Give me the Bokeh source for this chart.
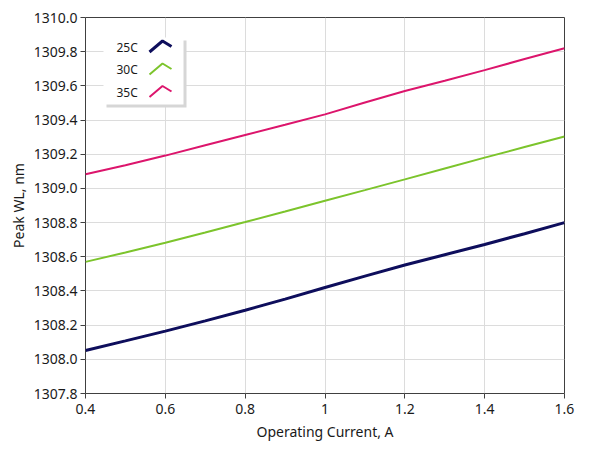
from bokeh.plotting import figure
from bokeh.models import Range1d, FixedTicker, CustomJSTickFormatter, Label, PolyAnnotation, BoxAnnotation
from bokeh.embed import file_html
from bokeh.resources import INLINE

# ---- data ----
current = [0.4, 0.5, 0.6, 0.7, 0.8, 0.9, 1.0, 1.1, 1.2, 1.3, 1.4, 1.5, 1.6]
wl_25c = [1308.052, 1308.108, 1308.165, 1308.225, 1308.287, 1308.352, 1308.420,
          1308.487, 1308.552, 1308.612, 1308.672, 1308.735, 1308.800]
wl_30c = [1308.570, 1308.625, 1308.682, 1308.742, 1308.803, 1308.865, 1308.928,
          1308.990, 1309.053, 1309.117, 1309.180, 1309.242, 1309.304]
wl_35c = [1309.083, 1309.135, 1309.192, 1309.252, 1309.312, 1309.372, 1309.433,
          1309.503, 1309.570, 1309.630, 1309.692, 1309.757, 1309.820]
series_names = ["25C", "30C", "35C"]
series_colors = ["#0e0e5c", "#7cc42c", "#dc156c"]
series_widths = [3, 2, 2]
x_ticks = [0.4, 0.6, 0.8, 1.0, 1.2, 1.4, 1.6]
y_ticks = [1307.8, 1308.0, 1308.2, 1308.4, 1308.6, 1308.8, 1309.0, 1309.2,
           1309.4, 1309.6, 1309.8, 1310.0]

FONT = "Noto Sans"
TXT = "#1a1a1a"

p = figure(width=580, height=448, output_backend="svg", toolbar_location=None,
           x_range=Range1d(x_ticks[0], x_ticks[-1]),
           y_range=Range1d(y_ticks[0], y_ticks[-1]),
           min_border_left=85, min_border_right=16, min_border_top=17, min_border_bottom=55)
p.background_fill_color = "white"
p.border_fill_color = "white"
p.outline_line_color = "#404040"
p.outline_line_width = 1

for ax in (p.xaxis[0], p.yaxis[0]):
    ax.axis_line_color = None
    ax.major_tick_line_color = "#404040"
    ax.major_tick_in = 0
    ax.minor_tick_line_color = None
    ax.major_label_text_font = FONT
    ax.major_label_text_font_size = "14px"
    ax.major_label_text_color = TXT
    ax.axis_label_text_font = FONT
    ax.axis_label_text_font_size = "14px"
    ax.axis_label_text_font_style = "normal"
    ax.axis_label_text_color = TXT

p.xaxis.ticker = FixedTicker(ticks=x_ticks)
p.yaxis.ticker = FixedTicker(ticks=y_ticks)
p.xaxis.formatter = CustomJSTickFormatter(code="return String(Math.round(tick*10)/10);")
p.yaxis.formatter = CustomJSTickFormatter(code="return tick.toFixed(1);")
p.xaxis.major_tick_out = 5
p.yaxis.major_tick_out = 5
p.xaxis.major_label_standoff = 5
p.yaxis.major_label_standoff = 3
p.xaxis.axis_label = "Operating Current, A"
p.yaxis.axis_label = "Peak WL, nm"
p.xaxis.axis_label_standoff = 5
p.yaxis.axis_label_standoff = 3

p.grid.grid_line_color = "#dcdcdc"
p.grid.grid_line_width = 1

for ys, c, w in zip([wl_25c, wl_30c, wl_35c], series_colors, series_widths):
    p.line(current, ys, line_color=c, line_width=w)

# ---- custom legend (label left of a chevron glyph), screen units from frame bottom-left ----
p.add_layout(BoxAnnotation(left=21, right=101, top=353, bottom=286,
                           left_units="screen", right_units="screen",
                           top_units="screen", bottom_units="screen",
                           fill_color="#d6d6d6", fill_alpha=1, line_color=None, level="overlay"))
p.add_layout(BoxAnnotation(left=18, right=98, top=356, bottom=289,
                           left_units="screen", right_units="screen",
                           top_units="screen", bottom_units="screen",
                           fill_color="white", fill_alpha=1, line_color=None, level="overlay"))
for i, (name, c, w) in enumerate(zip(series_names, series_colors, series_widths)):
    cy = 346.5 - i * 22.5
    p.add_layout(Label(x=31, y=cy, x_units="screen", y_units="screen", text=name,
                       text_font=FONT, text_font_size="12px", text_color=TXT,
                       text_baseline="middle", text_align="left", level="overlay"))
    p.add_layout(PolyAnnotation(xs=[64, 77, 86, 77], ys=[cy - 5, cy + 6, cy + 0.5, cy + 6],
                                xs_units="screen", ys_units="screen",
                                fill_alpha=0, line_color=c, line_alpha=1, line_width=w,
                                level="overlay"))

open("out.html", "w").write(file_html(p, INLINE))
